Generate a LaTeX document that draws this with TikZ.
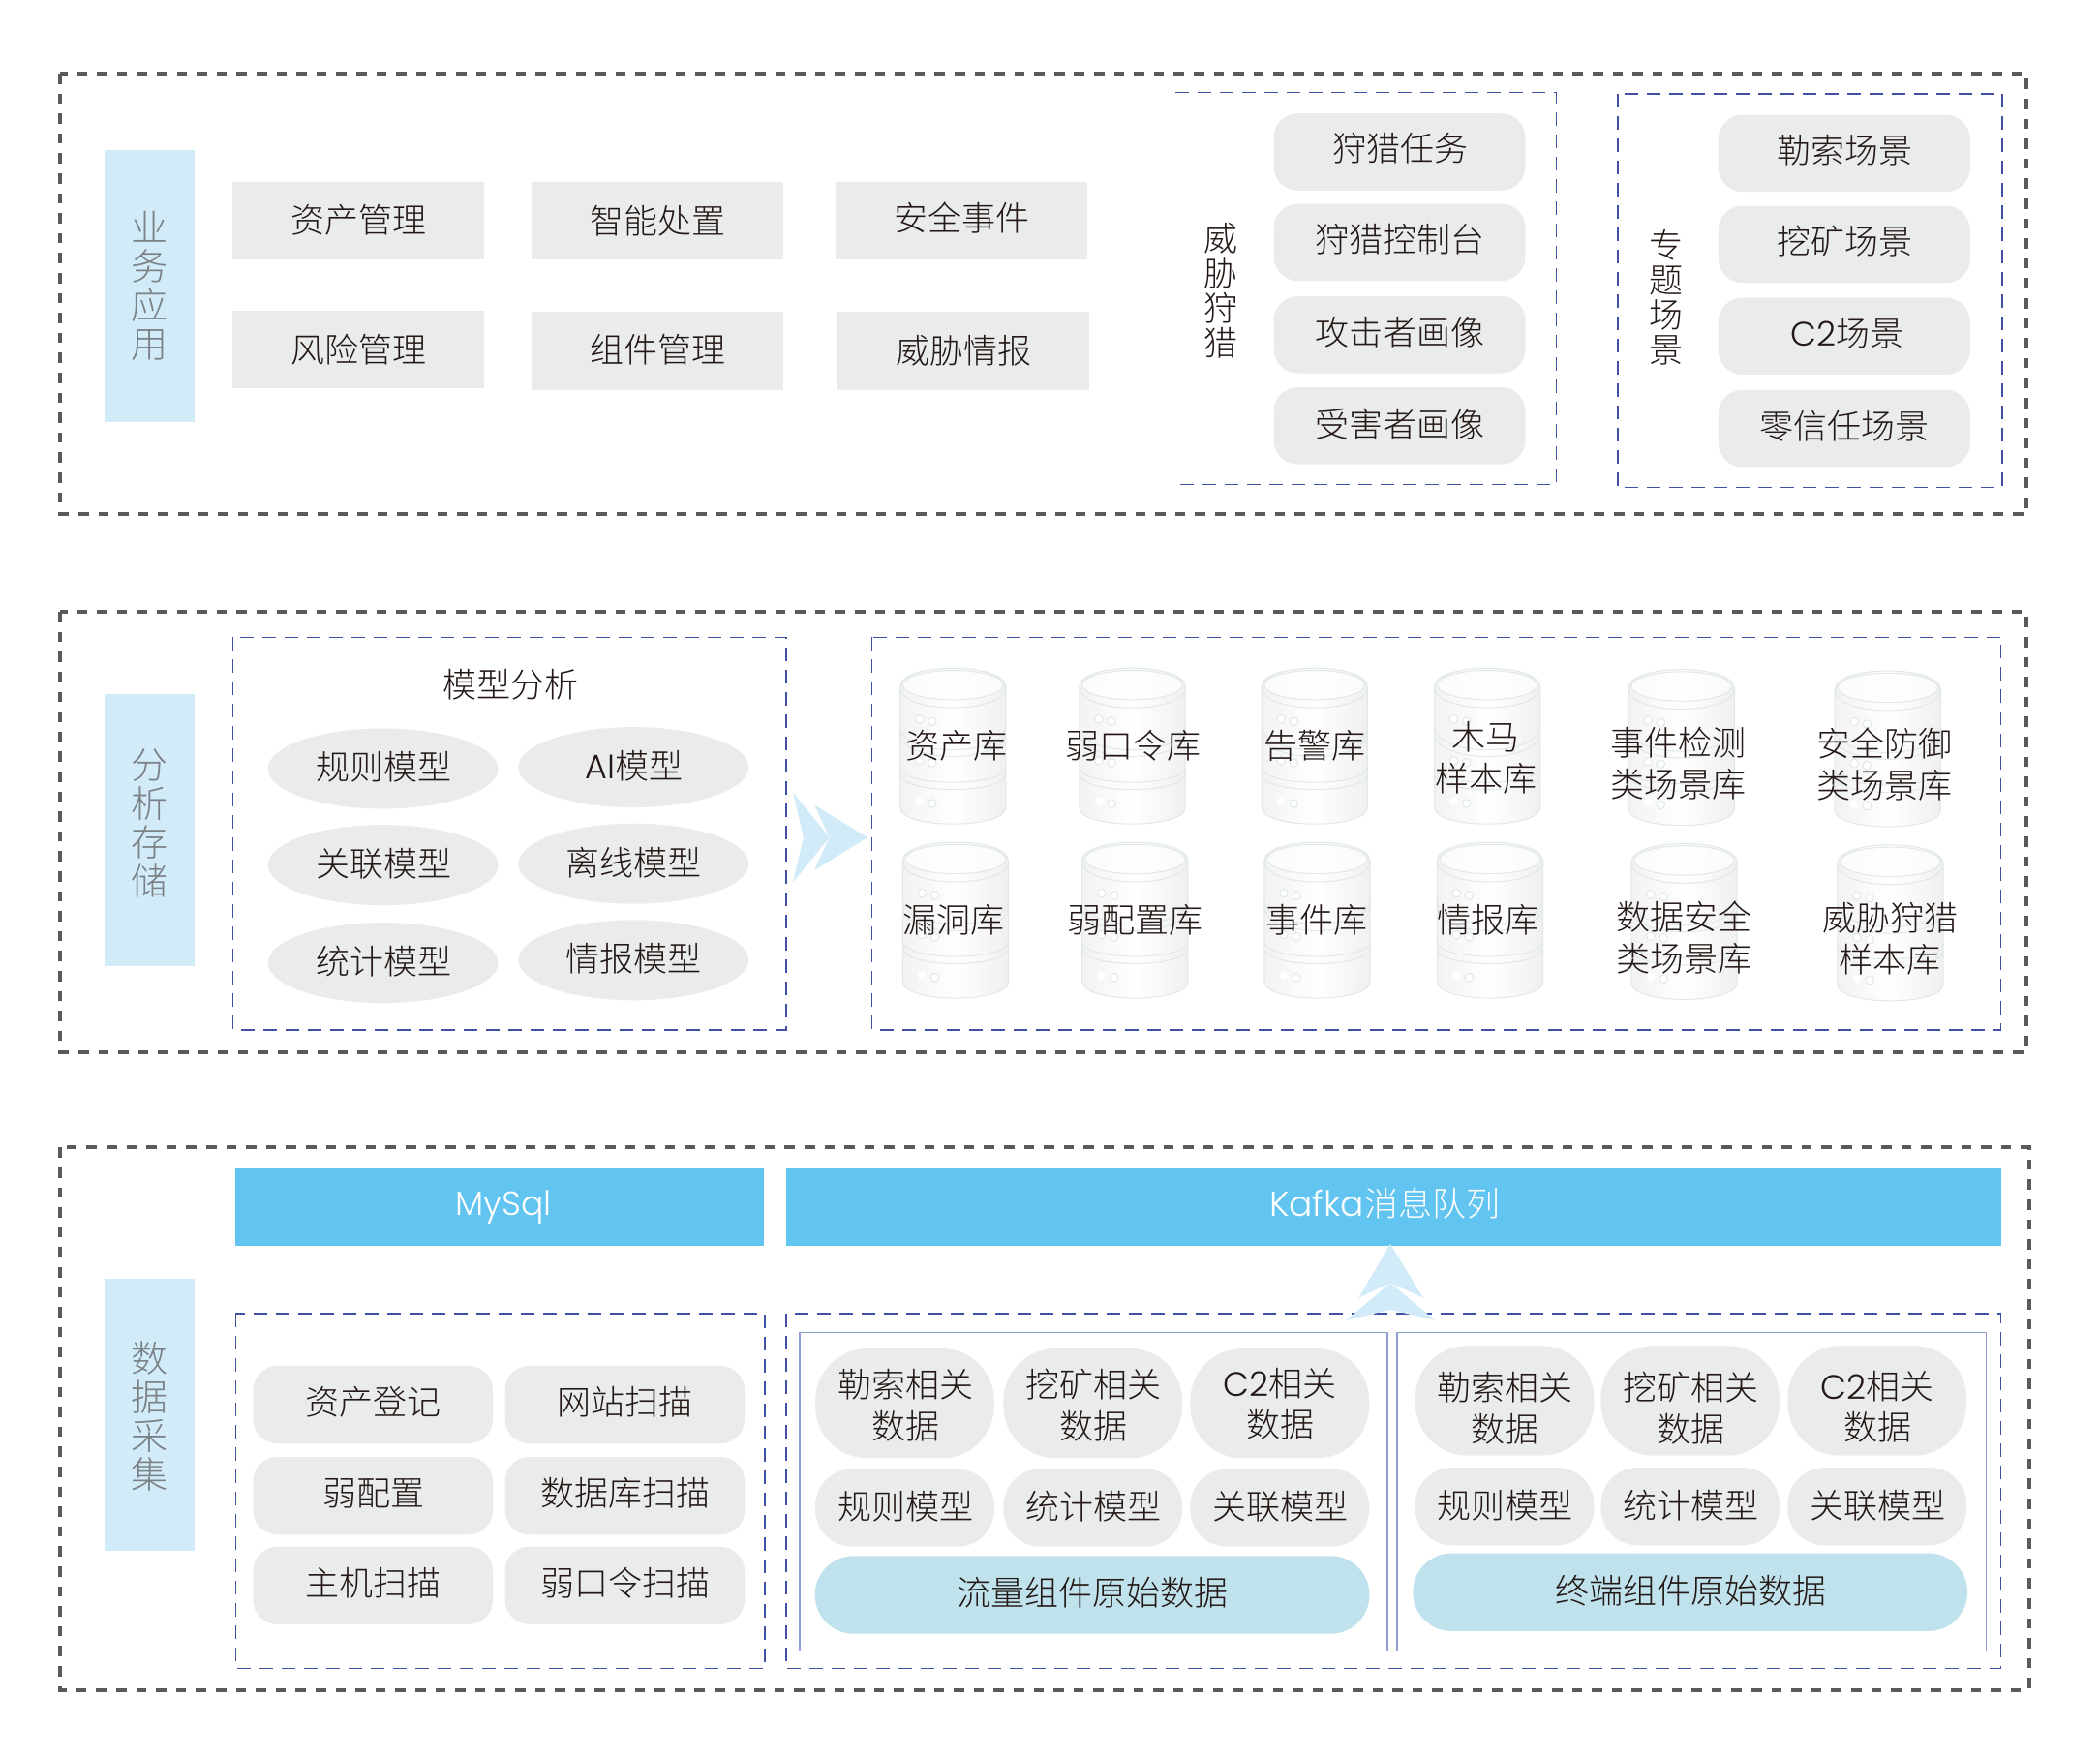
\documentclass[tikz,border=0pt]{standalone}
\usepackage{fontspec}
\setmainfont{Noto Sans CJK SC Light}
\newfontfamily\latinf{Poppins Light}
\definecolor{labelblue}{HTML}{D2EBF9}
\definecolor{pillgrey}{HTML}{EAECEC}
\definecolor{barblue}{HTML}{62C4F0}
\definecolor{wideblue}{HTML}{BFE2EC}
\definecolor{outerdash}{HTML}{5A5A5A}
\definecolor{innerdash}{HTML}{3F50A5}
\definecolor{solidblue}{HTML}{8E9DD4}
\definecolor{txt}{HTML}{231815}
\definecolor{labeltxt}{HTML}{7A8083}
\definecolor{dbline}{HTML}{E0E8EA}
\tikzset{
 x=0.6917pt,y=-0.6917pt,
 outerbox/.style={draw=outerdash,line width=2pt,dash pattern=on 5.3pt off 5pt},
 innerbox/.style={draw=innerdash,line width=0.75pt,dash pattern=on 7pt off 4.5pt},
 solidbox/.style={draw=solidblue,line width=0.8pt},
 item/.style={font=\fontsize{17.5}{21.3}\selectfont,text=txt,align=center,inner sep=0pt,xshift=0.3pt},
 sidelabel/.style={item,font=\fontsize{19}{20}\selectfont,text=labeltxt},
 vlabel/.style={item,font=\fontsize{17.5}{18}\selectfont},
 labelbar/.style={fill=labelblue,minimum width=67*0.6917pt,minimum height=203*0.6917pt,anchor=north west,inner sep=0pt},
 rectpill/.style={fill=pillgrey,inner sep=0pt,minimum width=188*0.6917pt,minimum height=58*0.6917pt},
 roundpill/.style={rectpill,rounded corners=12.5pt,minimum height=57.5*0.6917pt},
 smallpill/.style={rectpill,rounded corners=12.5pt,minimum width=179*0.6917pt},
 tallpill/.style={rectpill,rounded corners=27pt,minimum width=133.5*0.6917pt,minimum height=82*0.6917pt},
 shortpill/.style={rectpill,rounded corners=19pt,minimum width=133.5*0.6917pt},
 widepill/.style={rectpill,fill=wideblue,rounded corners=19.9pt,minimum width=414*0.6917pt},
 bar/.style={fill=barblue,minimum height=58*0.6917pt,anchor=north west,inner sep=0pt},
 dbl/.style={draw=dbline,line width=0.5pt},
 arrowfill/.style={fill=labelblue},
 dbicon/.pic={
  \path[dbl,left color=black!5,right color=black!6,middle color=white]
    (0,14) .. controls (0,-4.7) and (79,-4.7) .. (79,14) -- (79,104)
    .. controls (79,120.5) and (0,120.5) .. (0,104) -- cycle;
  \draw[dbl,fill=white,fill opacity=.7] (39.5,12.6) ellipse [x radius=37.5,y radius=11];
  \foreach \a/\k in {14/20.8, 43/24, 48/24, 74/15, 79/15.5}{
   \draw[dbl] (0,\a) .. controls (0,\a+\k) and (79,\a+\k) .. (79,\a);
  }
  \foreach \p/\q in {14.5/38,24/39.7,14.5/69,24/70.6,24/101}{
   \draw[dbl,fill=white] (\p,\q) circle [radius=3.1];
  }
  \fill[white] (14.5,99.5) circle [radius=3.1];
 }
}
\newcommand{\lat}[1]{{\latinf #1}}
\begin{document}
\begin{tikzpicture}
\useasboundingbox (0,0) rectangle (1568,1312);
\fill[white] (0,0) rectangle (1568,1312);
% outer
\draw[outerbox] (45,55) rectangle (1513,384);
\draw[outerbox] (45,457) rectangle (1513,786);
\draw[outerbox] (45,857) rectangle (1515,1262);
% side labels
\node[labelbar] (a1) at (78,112) {};
\node[labelbar] (a2) at (78,518) {};
\node[labelbar] (a3) at (78,955) {};
\node[sidelabel] (a1t) at (111.5,213.5) {业\\务\\应\\用};
\node[sidelabel] (a2t) at (111.5,614.5) {分\\析\\存\\储};
\node[sidelabel] (a3t) at (111.5,1057.5) {数\\据\\采\\集};
% row1
\foreach \n/\x/\y/\ty/\t in {b1/267.5/165/164/资产管理,b2/491/165/165/智能处置,b3/718/165/163/安全事件,b4/267.5/261/261/风险管理,b5/491/262/261/组件管理,b6/719/262/262/威胁情报}{
 \node[rectpill] (\n) at (\x,\y) {};
 \node[item] (\n t) at (\x,\ty) {\t};
}
% hunt box
\draw[innerbox] (875,69) rectangle (1162,362);
\node[vlabel] (h0) at (911,217) {威\\胁\\狩\\猎};
\foreach \n/\y/\ty/\t in {h1/113.5/111/狩猎任务,h2/181/179/狩猎控制台,h3/250/248/攻击者画像,h4/318/317/受害者画像}{
 \node[roundpill] (\n) at (1045,\y) {};
 \node[item] (\n t) at (1045,\ty) {\t};
}
\draw[innerbox] (1208,70) rectangle (1495,364);
\node[vlabel] (s0) at (1244,222) {专\\题\\场\\景};
\foreach \n/\y/\ty/\tx/\t in {s1/114.5/112/1377/勒索场景,s2/182.5/180/1377/挖矿场景,s3/251/249/1379/\lat{C2}场景,s4/320/318/1377/零信任场景}{
 \node[roundpill] (\n) at (1377,\y) {};
 \node[item] (\n t) at (\tx,\ty) {\t};
}
% section 2
\draw[innerbox] (174,476) rectangle (587,769);
\node[item] (m0) at (381,511) {模型分析};
\foreach \n/\x/\y/\t in {m1/286/574/规则模型,m2/473/573/\lat{AI}模型,m3/286/646/关联模型,m4/473/645/离线模型,m5/286/719/统计模型,m6/473/717/情报模型}{
 \fill[pillgrey] (\x,\y) ellipse [x radius=86,y radius=30];
 \node[item] (\n) at (\x,\y-1) {\t};
}
% right arrow
\fill[arrowfill] (592,591.6) -- (619.3,625.4) -- (592,659) -- (600,625.4) -- cycle;
\fill[arrowfill] (608,601) -- (647.7,625.4) -- (608,650) -- (619.3,625.4) -- cycle;
% store
\draw[innerbox] (651,476) rectangle (1494,769);
\foreach \x/\y in {672/499,806/499,942/499,1071/499,1216/500,1370/501,674/629,808/629,944/629,1073/629,1218/630,1372/631}{
 \pic at (\x,\y) {dbicon};
}
\foreach \n/\x/\y/\t in {d1/713.5/557/资产库,d2/845.5/557/弱口令库,d3/981/557/告警库,d4/1109/566/木马\\样本库,d5/1253/570/事件检测\\类场景库,d6/1406.5/571/安全防御\\类场景库,d7/711.5/687/漏洞库,d8/847/687/弱配置库,d9/983/687/事件库,d10/1111/687/情报库,d11/1257/700/数据安全\\类场景库,d12/1411/701/威胁狩猎\\样本库}{
 \node[item] (\n) at (\x,\y) {\t};
}
% section 3
\node[bar,minimum width=394.5*0.6917pt] (k1) at (175.5,872) {};
\node[bar,minimum width=907*0.6917pt] (k2) at (587,872) {};
\node[item,text=white,font=\latinf\fontsize{17.3}{20}\selectfont] (k1t) at (375.5,901.5) {MySql};
\node[item,text=white] (k2t) at (1033.5,899) {{\latinf\fontsize{18}{20}\selectfont Kafka}消息队列};
\draw[innerbox] (176,981) rectangle (571,1246);
\draw[innerbox] (587,981) rectangle (1494,1246);
\draw[solidbox] (597,995) rectangle (1036,1233);
\draw[solidbox] (1043,995) rectangle (1483,1233);
% up arrow
\fill[arrowfill] (1038,929) -- (1062.7,969.2) -- (1038,958) -- (1014.5,969.2) -- cycle;
\fill[arrowfill] (1038,958) -- (1071.6,986) -- (1038,978) -- (1005.3,986) -- cycle;
% left pills
\foreach \n/\x/\y/\t in {c1/278.5/1049/资产登记,c2/466.5/1049/网站扫描,c3/278.5/1117/弱配置,c4/466.5/1117/数据库扫描,c5/278.5/1184/主机扫描,c6/466.5/1184/弱口令扫描}{
 \node[smallpill] (\n) at (\x,\y) {};
 \node[item] (\n t) at (\x,\y-2) {\t};
}
% flow & endpoint
\foreach \n/\x/\y/\ty/\t in {f1/675.5/1048/1049.5/勒索相关\\数据,f2/816/1048/1049.5/挖矿相关\\数据,f3/955.5/1048/1048.5/\lat{C2}相关\\数据,e1/1123.5/1046/1051.5/勒索相关\\数据,e2/1262/1046/1051.5/挖矿相关\\数据,e3/1401.5/1046/1050.5/\lat{C2}相关\\数据}{
 \node[tallpill] (\n) at (\x,\y) {};
 \node[item] (\n t) at (\x,\ty) {\t};
}
\foreach \n/\x/\y/\t in {f4/675.5/1126/规则模型,f5/816/1126/统计模型,f6/955.5/1126/关联模型,e4/1123.5/1125/规则模型,e5/1262/1125/统计模型,e6/1401.5/1125/关联模型}{
 \node[shortpill] (\n) at (\x,\y) {};
 \node[item] (\n t) at (\x,\y-1) {\t};
}
\node[widepill] (f7) at (815.5,1191) {};
\node[item] (f7t) at (815.5,1189) {流量组件原始数据};
\node[widepill] (e7) at (1262,1189) {};
\node[item] (e7t) at (1262,1188) {终端组件原始数据};
\end{tikzpicture}
\end{document}
